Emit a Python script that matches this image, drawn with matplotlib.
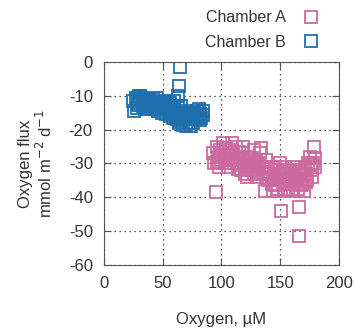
import matplotlib
matplotlib.use("Agg")
import matplotlib.pyplot as plt

# --- Data ---
b_x = [27, 28, 29, 30, 31, 32, 33, 34, 35, 36, 37, 38, 39, 40, 41, 42, 43, 44, 45, 46,
       47, 48, 49, 50, 51, 52, 53, 54, 55, 56, 57, 58, 59, 60, 61, 62, 63, 63, 64, 65,
       64, 65, 66, 67, 68, 69, 70, 71, 72, 73, 74, 75, 76, 77, 78, 79, 80, 81, 82, 83,
       84, 60, 56, 52, 45, 40, 35, 30, 66, 70,
       29, 33, 37, 41, 44, 48, 51, 55, 58, 61, 64, 67, 70, 73, 76, 79, 82, 84, 25, 26]
b_y = [-10.5, -13.5, -11, -12, -10, -11.5, -13, -10.5, -12, -11, -13.5, -10.8, -12.5, -11.5, -14, -11, -12.8, -13.5, -11.8, -14.5,
       -12, -13, -15, -12.5, -14, -13.2, -15.5, -12.8, -14.5, -16, -13.5, -15, -16.5, -14, -15.5, -17, -10, -13, -7, -1.5,
       -15, -17.5, -16, -18.5, -15, -17, -19, -16, -18, -17, -19, -16.5, -18, -15, -17, -14.5, -16.5, -14, -15.5, -16.5,
       -14.5, -11.5, -12, -11.5, -10.5, -13, -14, -10.2, -13, -14.5,
       -12.8, -12.2, -12, -12.8, -12.3, -11.8, -13, -13.2, -13.8, -16.5, -18, -17, -16.8, -15.5, -15.2, -16, -17.2, -15.8, -11.5, -14.5]

a_x = [93, 94, 95, 96, 97, 98, 99, 100, 101, 102, 103, 104, 105, 106, 107, 108, 109, 110, 111, 112,
       113, 114, 115, 116, 117, 118, 119, 120, 121, 122, 123, 124, 125, 126, 127, 128, 129, 130, 131, 133,
       134, 135, 136, 137, 138, 139, 140, 141, 142, 143, 144, 145, 146, 147, 148, 149, 150, 151, 152, 153,
       154, 155, 156, 157, 158, 159, 160, 161, 162, 163, 164, 165, 166, 166, 167, 168, 169, 170, 171, 172,
       173, 174, 175, 176, 177, 178, 179, 180, 128, 118, 150,
       96, 100, 104, 108, 112, 116, 120, 124, 128, 132, 136, 140, 144, 148, 152, 156, 160, 164, 168, 172,
       176, 180, 110, 130, 146, 158, 170, 138]
a_y = [-27, -30, -38.5, -25, -28, -31, -26, -29, -24, -27, -30, -25.5, -28, -31, -26, -29, -24, -27, -30, -25,
       -28, -31.5, -26.5, -29, -32, -27, -30, -33, -28, -34, -31, -29, -32, -28.5, -31, -33, -29.5, -32.5, -30, -27,
       -25.5, -33, -31, -38, -34, -31.5, -35, -33, -31, -36, -38, -33.5, -31, -35, -37.5, -32, -34, -44, -36, -38,
       -31, -33, -35.5, -37.5, -32, -34, -36, -38, -31, -33.5, -35, -37.5, -43, -51.5, -32, -34.5, -36, -38, -31, -33,
       -35, -30, -28, -32, -34, -30, -25, -31, -26, -25, -30,
       -29.5, -27.5, -29, -27.5, -28.5, -30.5, -31, -30.5, -31.5, -31, -32.5, -33, -34.5, -33, -32.5, -34.5, -33, -32.5, -36.5, -35.5,
       -30.5, -28.5, -28.5, -34, -36.5, -35, -33.5, -29]

x_ticks = [0, 50, 100, 150, 200]
y_ticks = [-60, -50, -40, -30, -20, -10, 0]

pink = '#cc6aa0'
blue = '#1f6fae'
txt = '#333333'

plt.rcParams['font.family'] = ['Liberation Sans', 'DejaVu Sans']
plt.rcParams['font.size'] = 12
plt.rcParams['axes.unicode_minus'] = False

fig = plt.figure(figsize=(3.56, 3.35), dpi=100)
ax = fig.add_axes([0.292, 0.209, 0.660, 0.606])

ax.plot(a_x, a_y, 's', ms=9, mfc='none', mec=pink, mew=1.3, ls='none', label='Chamber A')
ax.plot(b_x, b_y, 's', ms=9, mfc='none', mec=blue, mew=1.3, ls='none', label='Chamber B')

ax.set_xlim(0, 200)
ax.set_ylim(-60, 0)
ax.set_xticks(x_ticks)
ax.set_yticks(y_ticks)
ax.grid(True, ls=(0, (1, 3)), color='#222222', lw=0.9)
ax.tick_params(direction='in', top=True, right=True, length=5, colors='#555555',
               labelcolor=txt, pad=8)
for s in ax.spines.values():
    s.set_color('#555555')

ax.set_xlabel('Oxygen, µM', color=txt, labelpad=15)
ax.set_ylabel('Oxygen flux\nmmol m$^{-2}$ d$^{-1}$', color=txt, labelpad=10, linespacing=1.1)

leg = ax.legend(loc='upper right', bbox_to_anchor=(0.93, 1.0), bbox_transform=fig.transFigure,
                frameon=False, markerfirst=False, handletextpad=1.0, labelspacing=0.6,
                borderaxespad=0.25, handlelength=1.2, fontsize=11.5)
for t in leg.get_texts():
    t.set_color(txt)

fig.savefig('out.png', dpi=100)
